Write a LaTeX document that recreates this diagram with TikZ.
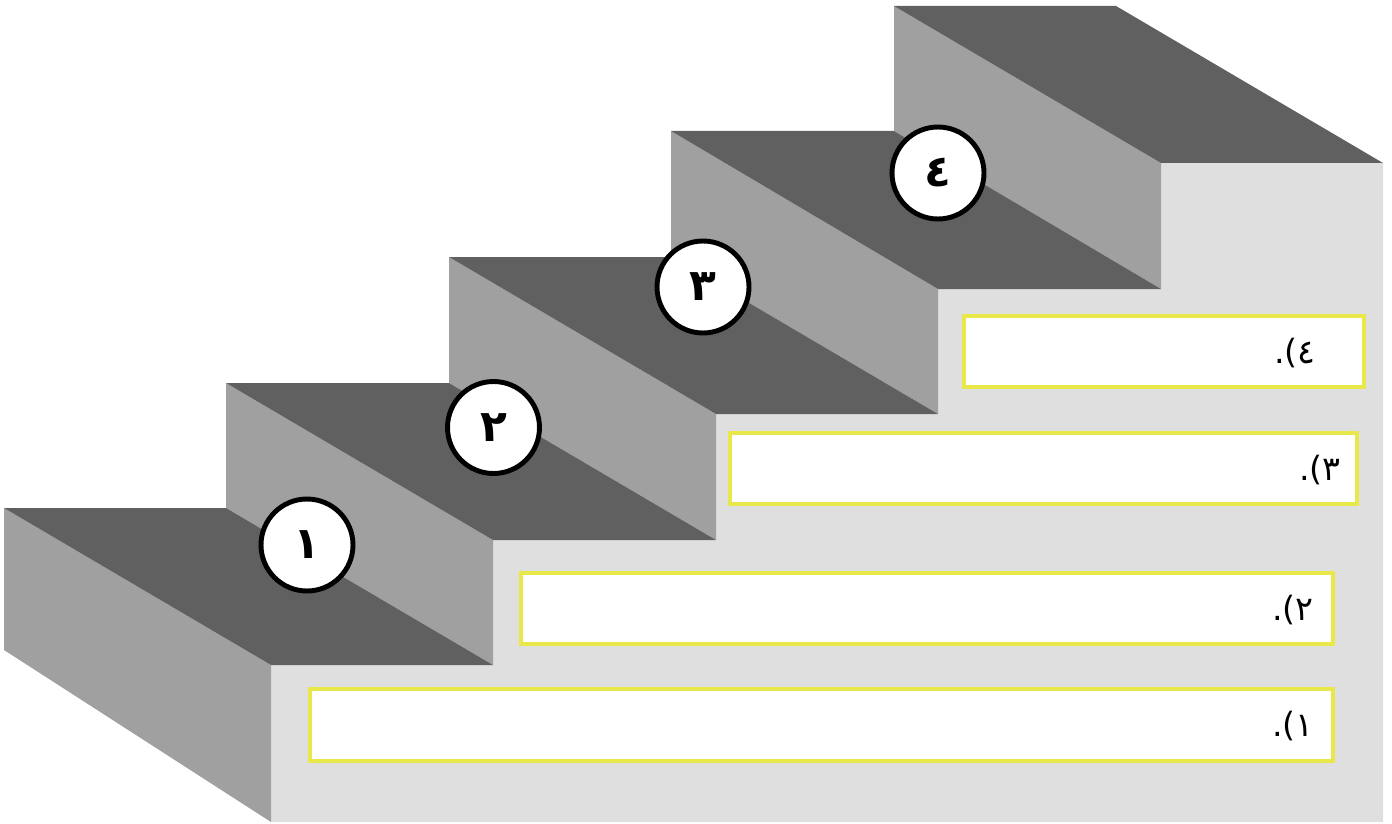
\documentclass[tikz,border=0pt]{standalone}
\usepackage{fontspec}
\newfontfamily\arabicfont[Script=Arabic]{DejaVu Sans}
\newfontfamily\punctfont{DejaVu Sans}
\TeXXeTstate=1
\usetikzlibrary{positioning}

\definecolor{stepdark}{HTML}{606060}
\definecolor{stepmid}{HTML}{A0A0A0}
\definecolor{steplight}{HTML}{DFDFDF}
\definecolor{boxyellow}{HTML}{E8E84A}

% answer label: digit shown right of ".("
\newcommand{\answerlabel}[1]{{\punctfont .(}\mbox{\arabicfont #1}}

\begin{document}
\begin{tikzpicture}[x=0.02cm, y=-0.02cm,
    numcircle/.style={circle, draw=black, fill=white, line width=2.8pt,
        minimum size=1.84cm, inner sep=0pt,
        font=\arabicfont\bfseries\fontsize{25}{27}\selectfont},
    answerbox/.style={draw=boxyellow, fill=white, line width=2.3pt,
        inner sep=0pt, minimum height=1.42cm},
    answertext/.style={anchor=east, inner sep=0pt,
        font=\fontsize{19}{21}\selectfont}]
    \useasboundingbox (0,0) rectangle (1392,824);

    % Front of the stairs
    \fill[steplight] (271,665) -- (493,665) -- (493,540) -- (716,540) -- (716,414)
        -- (938,414) -- (938,289) -- (1161,289) -- (1161,163) -- (1383,163)
        -- (1383,822) -- (271,822) -- cycle;

    % Side face of the lowest step
    \fill[stepmid] (4,508) -- (271,665) -- (271,822) -- (4,650) -- cycle;

    % Risers
    \fill[stepmid] (226,383) -- (493,540) -- (493,665) -- (226,508) -- cycle;
    \fill[stepmid] (449,257) -- (716,414) -- (716,540) -- (449,383) -- cycle;
    \fill[stepmid] (671,131) -- (938,289) -- (938,414) -- (671,257) -- cycle;
    \fill[stepmid] (894,6) -- (1161,163) -- (1161,289) -- (894,131) -- cycle;

    % Treads
    \fill[stepdark] (4,508) -- (226,508) -- (493,665) -- (271,665) -- cycle;
    \fill[stepdark] (226,383) -- (449,383) -- (716,540) -- (493,540) -- cycle;
    \fill[stepdark] (449,257) -- (671,257) -- (938,414) -- (716,414) -- cycle;
    \fill[stepdark] (671,131) -- (894,131) -- (1161,289) -- (938,289) -- cycle;
    \fill[stepdark] (894,6) -- (1116,6) -- (1383,163) -- (1161,163) -- cycle;

    % Step numbers
    \node[numcircle] (c1) at (307,545) {\beginR ١\endR};
    \node[numcircle] (c2) at (493.5,427.5) {\beginR ٢\endR};
    \node[numcircle] (c3) at (703,287) {\beginR ٣\endR};
    \node[numcircle] (c4) at (938,173) {\beginR ٤\endR};

    % Answer boxes
    \node[answerbox, minimum width=8cm] (b4) at (1164,351.5) {};
    \node[answerbox, minimum width=12.54cm] (b3) at (1043.5,468.5) {};
    \node[answerbox, minimum width=16.24cm] (b2) at (927,608.5) {};
    \node[answerbox, minimum width=20.46cm, minimum height=1.44cm] (b1) at (821.5,725) {};

    \node[answertext] (t4) at (1316,353) {\answerlabel{٤}};
    \node[answertext] (t3) at (1341,470) {\answerlabel{٣}};
    \node[answertext] (t2) at (1314,610) {\answerlabel{٢}};
    \node[answertext] (t1) at (1314,726) {\answerlabel{١}};
\end{tikzpicture}
\end{document}
